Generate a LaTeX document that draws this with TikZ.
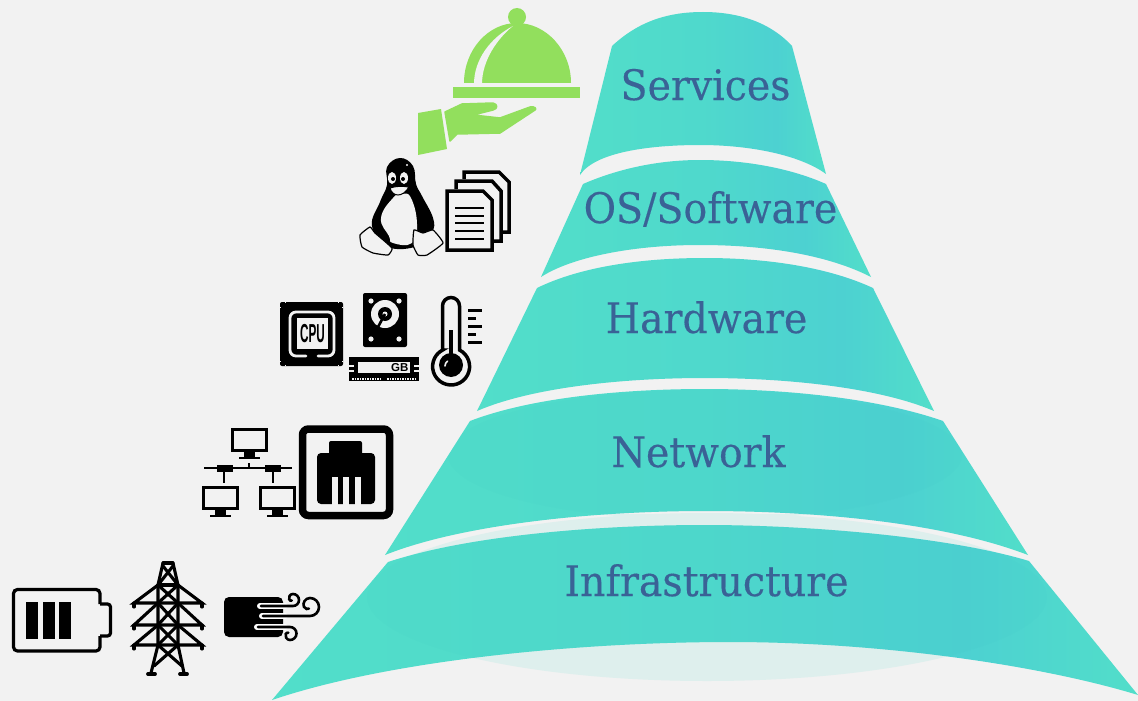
\documentclass[tikz,border=0pt]{standalone}
\usepackage{fontspec}
\usepackage{xcolor}
\usetikzlibrary{positioning}
\newfontfamily\bandfont[FakeStretch=0.94,FakeBold=0.3]{DejaVu Serif}
\newfontfamily\chipfont[FakeStretch=0.45]{Liberation Sans Bold}
\newfontfamily\ramfont{Liberation Sans Bold}
\definecolor{paper}{HTML}{F2F2F2}
\definecolor{pale}{HTML}{DEEFED}
\definecolor{dish}{HTML}{92DF5D}
\definecolor{ink}{HTML}{3A6296}
\definecolor{veil}{HTML}{3FC4C4}
\pgfdeclarehorizontalshading{bandshade}{100bp}{
	rgb(0bp)=(0.32,0.87,0.79);
	rgb(25bp)=(0.32,0.87,0.79);
	rgb(50bp)=(0.31,0.85,0.80);
	rgb(65bp)=(0.30,0.82,0.82);
	rgb(75bp)=(0.32,0.87,0.79);
	rgb(100bp)=(0.32,0.87,0.79)}
\newcommand{\netpath}{(470,421) .. controls (530,398) and (620,389) .. (705,389) .. controls (790,389) and (880,399) .. (943,421) -- (1028,555) .. controls (950,525) and (830,511) .. (705,511) .. controls (590,511) and (460,525) .. (385,555) -- cycle}
\newcommand{\infrapath}{(388,562) .. controls (470,535) and (600,525) .. (705,525) .. controls (810,525) and (950,537) .. (1029,561) -- (1138,695) .. controls (1040,665) and (880,642) .. (730,642) .. controls (580,642) and (390,660) .. (272,700) -- cycle}
\tikzstyle{band}=[shading=bandshade, draw=none]
\tikzstyle{lbl}=[text=ink, inner sep=0, font=\bandfont\fontsize{42}{42}\selectfont]
\tikzstyle{fg}=[draw=black, line width=3, fill=paper]
\tikzstyle{bar}=[line width=3.5]
\tikzstyle{wire}=[line width=2.8]
\tikzstyle{strut}=[line width=3.1, line cap=round]
\tikzstyle{curl}=[line width=2.6, line cap=round]
\tikzstyle{halo}=[line width=6, white, line cap=round]
\tikzstyle{hand}=[fill=dish, draw=dish, line width=1.5, line join=round]
\begin{document}
\begin{tikzpicture}[x=1pt,y=-1pt]
	\useasboundingbox (0,0) rectangle (1138,701);
	\fill[paper] (0,0) rectangle (1138,701);

	\fill[pale] (707,597) ellipse [x radius=340, y radius=84];
	\fill[pale] (598,514) .. controls (650,521) and (760,521) .. (812,514) -- cycle;
	\fill[pale] (453,543) .. controls (500,530) and (550,523) .. (597,520) -- (632,526) -- (632,540) -- cycle;
	\fill[pale] (957,543) .. controls (910,530) and (860,523) .. (813,520) -- (778,526) -- (778,540) -- cycle;

	\path[band] (612,46) .. controls (640,20) and (670,12) .. (703,12) .. controls (738,12) and (770,22) .. (792,46) -- (826,174) .. controls (800,155) and (750,145) .. (700,145) .. controls (650,145) and (595,152) .. (580,175) -- cycle;
	\path[band] (583,184) .. controls (620,168) and (660,160) .. (700,160) .. controls (745,160) and (790,168) .. (826,184) -- (871,277) .. controls (830,256) and (770,245) .. (700,245) .. controls (630,245) and (570,258) .. (541,277) -- cycle;
	\path[band] (537,288) .. controls (580,267) and (640,258) .. (705,258) .. controls (770,258) and (830,268) .. (873,288) -- (934,411) .. controls (880,388) and (790,378) .. (705,378) .. controls (620,378) and (530,388) .. (477,411) -- cycle;
	\path[band] \netpath;
	\path[band] \infrapath;
	\begin{scope}
		\clip \netpath;
		\fill[veil, opacity=0.08] (705,455) ellipse [x radius=257, y radius=65];
	\end{scope}
	\begin{scope}
		\clip \infrapath;
		\fill[veil, opacity=0.08] (707,597) ellipse [x radius=340, y radius=84];
	\end{scope}

	\node[lbl, anchor=base] (services) at (705.5,100) {Services};
	\node[lbl, anchor=base] (software) at (710.5,223) {OS/Software};
	\node[lbl, anchor=base] (hardware) at (706.5,333) {Hardware};
	\node[lbl, anchor=base] (network) at (698.5,467) {Network};
	\node[lbl, anchor=base] (infra) at (706.5,596) {Infrastructure};

	\fill[dish] (517,17) circle (9);
	\fill[dish] (464,83) .. controls (464,50) and (488,23) .. (517,23) .. controls (546,23) and (571,50) .. (571,83) -- cycle;
	\fill[paper] (474,84) .. controls (474,60) and (490,38) .. (513,26) .. controls (498,38) and (482,60) .. (482,84) -- cycle;
	\fill[dish] (453,87) rectangle (580,98);
	\fill[dish] (418,113) -- (441,109) -- (447,149) -- (418,155) -- cycle;
	\path[hand] (445,112) -- (462,104) -- (493,103) .. controls (498,104) and (498,109) .. (493,110) -- (473,115) -- (500,118) -- (530,107) .. controls (535,106) and (537,109) .. (535,110) -- (500,133) -- (457,134) -- (450,141) -- cycle;

	\fill[black] plot[smooth cycle, tension=0.7] coordinates {(400,158) (413,166) (416,184) (422,196) (433,218) (432,232) (418,246) (388,247) (372,226) (380,202) (387,185) (387,167)};
	\fill[paper] plot[smooth cycle, tension=0.8] coordinates {(393,198) (381,218) (389,236) (393,243) (412,243) (417,224) (411,198) (402,194)};
	\fill[paper] (392,178) ellipse [x radius=4, y radius=6];
	\fill[paper] (404,178) ellipse [x radius=4, y radius=6];
	\fill[black] (393,179) circle (2);
	\fill[black] (403,179) circle (2);
	\fill[paper] (407,165) circle (1.2);
	\filldraw[fill=paper, draw=black, line width=1] (390,188) .. controls (396,186) and (402,186) .. (409,187) .. controls (406,192) and (402,195) .. (398,195) .. controls (394,195) and (391,192) .. (390,188) -- cycle;
	\filldraw[fill=paper, draw=black, line width=1.2] plot[smooth cycle, tension=0.25] coordinates {(360,235) (370,227) (375,233) (392,248) (388,255) (373,253) (362,247)};
	\filldraw[fill=paper, draw=black, line width=1.2] plot[smooth cycle, tension=0.25] coordinates {(414,230) (423,233) (433,230) (443,243) (427,255) (418,255) (413,245)};

	\draw[bar] (464,179) -- (464,172) -- (499,172) -- (509,182) -- (509,232) -- (503,232);
	\draw[bar] (456,189) -- (456,181) -- (492,181) -- (501,191) -- (501,241) -- (494,241);
	\filldraw[fg, line width=3.5] (447,191) -- (483,191) -- (492,200) -- (492,250) -- (447,250) -- cycle;
	\foreach \ly in {208,216,223,231,239}
		\draw[line width=2.4] (455,\ly) -- (484,\ly);

	\fill[black, rounded corners=2] (280,302) rectangle (343,366);
	\foreach \cx/\cy in {285/302,338/302,285/365,338/365,280/307,342/307,280/361,342/361}
		\fill[paper] (\cx,\cy) rectangle (\cx+1.2,\cy+1.2);
	\draw[paper, line width=2.8, rounded corners=6, line cap=round] (306,356) -- (290,356) -- (290,312) -- (334,312) -- (334,356) -- (318,356);
	\fill[paper] (297,318) rectangle (328,349);
	\node[inner sep=0, font=\chipfont\fontsize{26}{26}\selectfont] (cpu) at (312.5,333.5) {CPU};
	\fill[black, rounded corners=2] (363,293) rectangle (407,347);
	\foreach \hx/\hy in {371/301,399/301,371/339,399/339}
		\fill[paper] (\hx,\hy) circle (2.6);
	\fill[paper] (385,314) circle (14);
	\fill[black] (385,314) circle (7);
	\fill[paper] (385,314) circle (2.5);
	\draw[line width=2.6] (378,327) -- (385,314);

	\fill[black] (349,357) rectangle (419,381);
	\fill[paper] (358,362) rectangle (410,373);
	\node[inner sep=0, anchor=east, font=\ramfont\fontsize{11.5}{11.5}\selectfont] (ram) at (408.5,367.5) {GB};
	\foreach \ny in {366,371}{
		\draw[paper, line width=1.4] (349,\ny) -- (354,\ny);
		\draw[paper, line width=1.4] (414,\ny) -- (419,\ny);
	}
	\draw[paper, line width=2, dash pattern=on 1.5 off 1] (352,378.5) -- (382,378.5);
	\draw[paper, line width=2, dash pattern=on 1.5 off 1] (387,378.5) -- (417,378.5);

	\draw[line width=3.5, fill=paper] (442.5,350) -- (442.5,306) arc (180:360:8.5) -- (459.5,350) arc (-63:243:18.5) -- cycle;
	\fill[black] (451,365) circle (12);
	\fill[black] (449,330) rectangle (453,360);
	\draw[paper, line width=1.6, line cap=round] (445,366) arc (180:235:6);
	\foreach \ty/\tx in {310/482,318/476,326/482,334/476,342/482}
		\draw[line width=3] (468,\ty) -- (\tx,\ty);

	\foreach \mx/\my in {231/428,202/486,259/486}{
		\draw[bar] (\mx+1.5,\my+1.5) rectangle (\mx+35.5,\my+22.5);
		\fill[black] (\mx+13,\my+24) rectangle (\mx+24,\my+29);
		\draw[line width=1.8] (\mx+8,\my+30) -- (\mx+29,\my+30);
	}
	\draw[wire] (204,468) -- (292,468);
	\fill[black] (217,465) rectangle (233,472);
	\fill[black] (265,465) rectangle (281,472);
	\draw[wire] (249,463) -- (249,468);
	\draw[wire] (224,472) -- (224,483);
	\draw[wire] (273,472) -- (273,483);

	\draw[line width=7.5, rounded corners=6] (302.5,429) rectangle (389.5,515.5);
	\fill[black, rounded corners=2] (329,441) rectangle (362,458);
	\fill[black, rounded corners=4] (317,453) rectangle (375,504);
	\foreach \sx in {332,343,355}
		\fill[paper] (\sx,477) rectangle (\sx+5.5,504.5);

	\draw[line width=3.2, rounded corners=4] (100,604) -- (100,589.5) -- (13.5,589.5) -- (13.5,651) -- (100,651) -- (100,636);
	\draw[line width=3.2, rounded corners=3] (100,604) -- (110.5,604) -- (110.5,636) -- (100,636);
	\foreach \bx in {26,43,59}
		\fill[black] (\bx,602) rectangle (\bx+11.5,639);

	\draw[strut] (163,563) -- (173,563);
	\draw[strut] (163,563) -- (158,585) -- (158,645) -- (151,673);
	\draw[strut] (173,563) -- (178,585) -- (178,645) -- (184,673);
	\draw[strut] (163,566) -- (178,585);
	\draw[strut] (173,566) -- (158,585);
	\draw[strut] (158,585) -- (178,585);
	\foreach \ay/\by in {585/603,603/625,625/645}{
		\draw[strut] (158,\ay) -- (134,\by) -- (202,\by) -- (178,\ay);
		\draw[strut] (158,\ay) -- (178,\by);
		\draw[strut] (178,\ay) -- (158,\by);
		\draw[strut] (134,\by) -- (134,\by+4);
		\draw[strut] (202,\by) -- (202,\by+4);
	}
	\draw[strut] (158,645) -- (182,666);
	\draw[strut] (178,645) -- (154,666);
	\draw[line width=3.8, line cap=round] (148,674) -- (155,674);
	\draw[line width=3.8, line cap=round] (180,674) -- (187,674);

	\fill[black, rounded corners=5] (224,597) rectangle (283,637);
	\draw[halo] (260,606) -- (285,606);
	\draw[halo] (262,616) -- (285,616);
	\draw[halo] (257,627) -- (285,627);
	\draw[curl] (261,606) -- (293,606) arc (90:-90:6) arc (-90:-200:4) arc (-200:-290:2);
	\draw[curl] (263,616) -- (310,616) arc (90:-90:9) arc (-90:-200:6.5) arc (-200:-300:3.5);
	\draw[curl] (258,627) -- (290,627) arc (-90:90:6.5) arc (90:200:4.5) arc (200:290:2);
\end{tikzpicture}
\end{document}
